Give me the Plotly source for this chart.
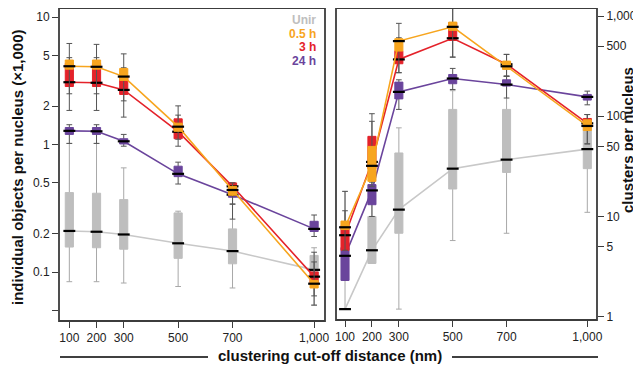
import plotly.graph_objects as go

dist = [100, 200, 300, 500, 700, 1000]
dist_labels = ['100', '200', '300', '500', '700', '1,000']

# ---------------- Left panel: individual objects per nucleus (x1,000) ----------------
L_unir_med = [0.21, 0.207, 0.197, 0.168, 0.146, 0.104]
L_unir_q1 = [0.157, 0.155, 0.151, 0.128, 0.116, 0.091]
L_unir_q3 = [0.42, 0.415, 0.37, 0.291, 0.218, 0.135]
L_unir_lo = [0.084, 0.084, 0.082, 0.077, 0.075, 0.055]
L_unir_hi = [1.02, 1.02, 0.656, 0.30, 0.39, 0.155]

L_h05_med = [4.11, 4.07, 3.41, 1.38, 0.44, 0.081]
L_h05_q1 = [3.9, 3.9, 3.18, 1.27, 0.40, 0.075]
L_h05_q3 = [4.6, 4.6, 3.95, 1.47, 0.47, 0.086]
L_h05_lo = [2.5, 2.5, 2.2, 1.1, 0.34, 0.065]
L_h05_hi = [6.2, 6.1, 5.14, 2.01, 0.5, 0.12]

L_h3_med = [3.08, 3.05, 2.68, 1.26, 0.47, 0.092]
L_h3_q1 = [2.85, 2.85, 2.47, 1.11, 0.42, 0.08]
L_h3_q3 = [4.32, 4.32, 3.48, 1.59, 0.5, 0.1]
L_h3_lo = [1.85, 1.85, 1.64, 0.97, 0.26, 0.055]
L_h3_hi = [4.8, 4.8, 4.0, 1.7, 0.5, 0.143]

L_h24_med = [1.28, 1.27, 1.06, 0.589, 0.404, 0.218]
L_h24_q1 = [1.2, 1.2, 1.01, 0.56, 0.386, 0.208]
L_h24_q3 = [1.36, 1.36, 1.11, 0.676, 0.477, 0.25]
L_h24_lo = [1.02, 1.02, 0.97, 0.49, 0.342, 0.19]
L_h24_hi = [1.43, 1.43, 1.2, 0.727, 0.497, 0.28]

# ---------------- Right panel: clusters per nucleus ----------------
R_unir_med = [1.19, 4.6, 11.7, 30, 36.9, 47]
R_unir_q1 = [1.19, 3.4, 6.8, 18.8, 27.5, 30]
R_unir_q3 = [1.19, 10, 43, 117, 117, 83]
R_unir_lo = [1.19, 3.4, 1.19, 5.75, 6.8, 11]
R_unir_hi = [17.8, 18, 76.6, 180, 250, 104]

R_h05_med = [7.8, 32, 562, 780, 315, 80]
R_h05_q1 = [7.4, 22.4, 447, 720, 293, 72]
R_h05_q3 = [9.0, 50, 594, 870, 355, 92]
R_h05_lo = [4.6, 20, 272, 389, 251, 53]
R_h05_hi = [11.4, 106, 845, 1213, 414, 104]

R_h3_med = [6.5, 35, 369, 600, 330, 85]
R_h3_q1 = [4.6, 30, 334, 570, 300, 80]
R_h3_q3 = [8.1, 63, 447, 860, 345, 95]
R_h3_lo = [4.6, 22, 272, 389, 251, 53]
R_h3_hi = [17.8, 89, 607, 1213, 414, 104]

R_h24_med = [4.05, 18.2, 175, 238, 207, 156]
R_h24_q1 = [2.3, 13.1, 149, 211, 200, 145]
R_h24_q3 = [4.9, 20.8, 219, 261, 231, 165]
R_h24_lo = [2.3, 10, 117, 185, 152, 130]
R_h24_hi = [4.9, 23, 231, 300, 251, 178]

legend_names = ['Unir', '0.5 h', '3 h', '24 h']
C_UNIR = '#BEBEBE'
C_H05 = '#F7A51E'
C_H3 = '#E4222A'
C_H24 = '#6A449C'
legend_colors = [C_UNIR, C_H05, C_H3, C_H24]

FONT = 'Liberation Sans, Arial, sans-serif'
fig = go.Figure()

BOXW = 30

W, H = 641, 369
OFF = 8  # page body margin in the browser


def px(X):
    return min(max((X - OFF) / W, 0), 1)


def py(Y):
    return min(max(1 - (Y - OFF) / H, 0), 1)


def add_series(xa, ya, med, q1, q3, lo, hi, color, whisker_color, line_color, base):
    # whiskers
    fig.add_trace(go.Box(x=dist, q1=med, median=med, q3=med, lowerfence=lo, upperfence=hi,
                         width=BOXW, whiskerwidth=0.7, fillcolor='rgba(0,0,0,0)',
                         line=dict(color=whisker_color, width=1), xaxis=xa, yaxis=ya,
                         showlegend=False, hoverinfo='skip', zorder=base))
    # connecting line
    fig.add_trace(go.Scatter(x=dist, y=med, mode='lines', line=dict(color=line_color, width=1.6),
                             xaxis=xa, yaxis=ya, showlegend=False, hoverinfo='skip', zorder=base + 1))
    # box
    fig.add_trace(go.Box(x=dist, q1=q1, median=med, q3=q3, lowerfence=q1, upperfence=q3,
                         width=BOXW, whiskerwidth=0, fillcolor=color,
                         line=dict(color=color, width=1), xaxis=xa, yaxis=ya,
                         showlegend=False, hoverinfo='skip', zorder=base + 2))
    # median
    fig.add_trace(go.Scatter(x=dist, y=med, mode='markers',
                             marker=dict(symbol='line-ew', size=8.5, color='black',
                                         line=dict(color='black', width=2.2)),
                             xaxis=xa, yaxis=ya, showlegend=False, hoverinfo='skip', zorder=base + 3))


for xa, ya, S in [('x', 'y', 'L'), ('x2', 'y2', 'R')]:
    g = globals()
    add_series(xa, ya, g[S + '_unir_med'], g[S + '_unir_q1'], g[S + '_unir_q3'], g[S + '_unir_lo'], g[S + '_unir_hi'],
               C_UNIR, '#A8A8A8', '#C8C8C8', 0)
    add_series(xa, ya, g[S + '_h24_med'], g[S + '_h24_q1'], g[S + '_h24_q3'], g[S + '_h24_lo'], g[S + '_h24_hi'],
               C_H24, '#555555', C_H24, 4)
    add_series(xa, ya, g[S + '_h3_med'], g[S + '_h3_q1'], g[S + '_h3_q3'], g[S + '_h3_lo'], g[S + '_h3_hi'],
               C_H3, '#555555', C_H3, 8)
    add_series(xa, ya, g[S + '_h05_med'], g[S + '_h05_q1'], g[S + '_h05_q3'], g[S + '_h05_lo'], g[S + '_h05_hi'],
               C_H05, '#555555', C_H05, 12)

axis_common = dict(showline=False, ticks='outside',
                   ticklen=6, tickwidth=1, tickcolor='#3c3c3c', showgrid=False, zeroline=False,
                   automargin=False,
                   tickfont=dict(family=FONT, size=12, color='#222222'))

fig.update_layout(
    width=W, height=H, margin=dict(l=0, r=0, t=0, b=0, autoexpand=False),
    paper_bgcolor='white', plot_bgcolor='rgba(0,0,0,0)', boxmode='overlay', showlegend=False,
    xaxis=dict(domain=[px(59), px(325)], range=[62, 1040], tickvals=dist, ticktext=dist_labels,
               anchor='y', **axis_common),
    yaxis=dict(domain=[py(321), py(8)], type='log', range=[-1.384, 1.0706],
               tickvals=[0.05, 0.1, 0.2, 0.5, 1, 2, 5, 10],
               ticktext=['', '0.1', '0.2', '0.5', '1', '2', '5', '10'], anchor='x', **axis_common),
    xaxis2=dict(domain=[px(336), px(597)], range=[66.5, 1036], tickvals=dist, ticktext=dist_labels,
                anchor='y2', **axis_common),
    yaxis2=dict(domain=[py(320), py(8)], type='log', range=[-0.033, 3.08], side='right',
                tickvals=[1, 5, 10, 50, 100, 500, 1000],
                ticktext=['1', '5', '10', '50', '100', '500', '1,000'], anchor='x2', **axis_common),
)

# panel frames
for xr, yr in [('x domain', 'y domain'), ('x2 domain', 'y2 domain')]:
    fig.add_shape(type='rect', xref=xr, yref=yr, x0=0, x1=1, y0=0, y1=1,
                  line=dict(color='#3c3c3c', width=1.8), fillcolor='rgba(0,0,0,0)', layer='above')

# legend as coloured text
for i, (name, col) in enumerate(zip(legend_names, legend_colors)):
    fig.add_annotation(x=px(318), y=py(20 + i * 13.7), xref='paper', yref='paper', text='<b>%s</b>' % name,
                       showarrow=False, xanchor='right', yanchor='middle',
                       font=dict(family=FONT, size=12, color=col))

TITLE_FONT = dict(family=FONT, size=15, color='#111111')
fig.add_annotation(x=px(17), y=py(167), xref='paper', yref='paper', textangle=-90,
                   text='<b>individual objects per nucleus (×1,000)</b>', showarrow=False,
                   font=TITLE_FONT, xanchor='center', yanchor='middle')
fig.add_annotation(x=px(628), y=py(140), xref='paper', yref='paper', textangle=-90,
                   text='<b>clusters per nucleus</b>', showarrow=False,
                   font=TITLE_FONT, xanchor='center', yanchor='middle')
fig.add_annotation(x=px(330), y=py(355), xref='paper', yref='paper',
                   text='<b>clustering cut-off distance (nm)</b>', showarrow=False,
                   font=TITLE_FONT, xanchor='center', yanchor='middle')
fig.add_shape(type='line', xref='paper', yref='paper', x0=px(60), x1=px(208), y0=py(357), y1=py(357),
              line=dict(color='black', width=1.6))
fig.add_shape(type='line', xref='paper', yref='paper', x0=px(452), x1=px(598), y0=py(357), y1=py(357),
              line=dict(color='black', width=1.6))

fig.write_html('out.html')
